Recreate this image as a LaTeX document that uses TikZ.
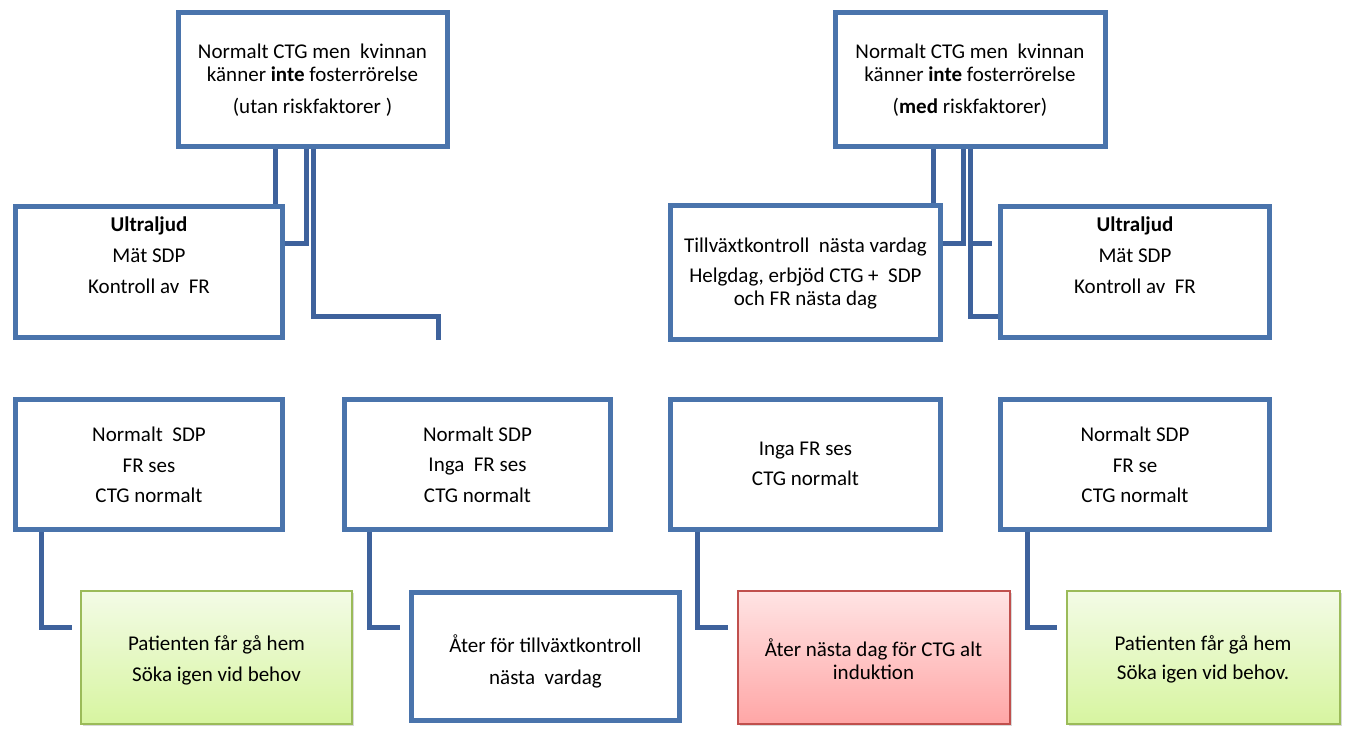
\documentclass[tikz,border=0pt]{standalone}
\usepackage{fontspec}
\setmainfont{Carlito}
\usetikzlibrary{shadows}
\definecolor{boxblue}{RGB}{74,116,172}
\definecolor{linkblue}{RGB}{62,98,156}
\definecolor{grnborder}{RGB}{155,187,89}
\definecolor{grntop}{RGB}{243,251,230}
\definecolor{grnbot}{RGB}{215,245,160}
\definecolor{redborder}{RGB}{192,80,77}
\definecolor{redtop}{RGB}{255,228,228}
\definecolor{redbot}{RGB}{255,166,166}
\begin{document}
\begin{tikzpicture}[x=1pt,y=-1pt,
  txt/.style={anchor=north, align=center, inner sep=0pt, font=\fontsize{21}{23}\selectfont},
  bluebox/.style={draw=boxblue, line width=5pt, fill=white, inner sep=0pt},
  greenbox/.style={draw=grnborder, line width=2pt, top color=grntop, bottom color=grnbot, inner sep=0pt,
     drop shadow={opacity=0.3, shadow xshift=2pt, shadow yshift=-2pt}},
  redbox/.style={draw=redborder, line width=2pt, top color=redtop, bottom color=redbot, inner sep=0pt,
     drop shadow={opacity=0.3, shadow xshift=2pt, shadow yshift=-2pt}},
  link/.style={draw=linkblue, line width=5pt}]
\useasboundingbox (0,0) rectangle (1346,729);

% top boxes
\node[bluebox, minimum width=269pt, minimum height=134pt] (TL) at (312.5,79) {};
\node[bluebox, minimum width=270pt, minimum height=134pt] (TR) at (970,79.5) {};
% second row
\node[bluebox, minimum width=267pt, minimum height=131pt] (UL) at (149,272) {};
\node[bluebox, minimum width=270pt, minimum height=134pt] (TV) at (805.5,272) {};
\node[bluebox, minimum width=269pt, minimum height=131pt] (UR) at (1135,272) {};
% third row
\node[bluebox, minimum width=267pt, minimum height=130pt] (R1) at (149,464.5) {};
\node[bluebox, minimum width=266pt, minimum height=130pt] (R2) at (477.5,464.5) {};
\node[bluebox, minimum width=270pt, minimum height=130pt] (R3) at (805.5,464.5) {};
\node[bluebox, minimum width=269pt, minimum height=130pt] (R4) at (1135,464.5) {};
% bottom row
\node[greenbox, minimum width=271.5pt, minimum height=133pt] (G1) at (216.5,657.5) {};
\node[bluebox, minimum width=268pt, minimum height=128pt] (W) at (545.5,656.5) {};
\node[redbox, minimum width=272pt, minimum height=133pt] (RD) at (873.5,657.5) {};
\node[greenbox, minimum width=273pt, minimum height=133pt] (G2) at (1203,657.5) {};

% texts
\node[txt] (TLt) at (312.5,44) {Normalt CTG men\ \ kvinnan\\känner \textbf{inte} fosterrörelse\\[9pt](utan riskfaktorer )};
\node[txt] (TRt) at (970,44) {Normalt CTG men\ \ kvinnan\\känner \textbf{inte} fosterrörelse\\[9pt](\textbf{med} riskfaktorer)};
\node[txt] (ULt) at (149,217) {\textbf{Ultraljud}\\[8pt]Mät SDP\\[8pt]Kontroll av\ \ FR};
\node[txt] (TVt) at (805.5,238) {Tillväxtkontroll\ \ nästa vardag\\[7pt]Helgdag, erbjöd CTG +\ \ SDP\\och FR nästa dag};
\node[txt] (URt) at (1135,217) {\textbf{Ultraljud}\\[8pt]Mät SDP\\[8pt]Kontroll av\ \ FR};
\node[txt] (R1t) at (149,427) {Normalt\ \ SDP\\[8pt]FR ses\\[7pt]CTG normalt};
\node[txt] (R2t) at (477.5,427) {Normalt SDP\\[7pt]Inga\ \ FR ses\\[8pt]CTG normalt};
\node[txt] (R3t) at (805.5,442) {Inga FR ses\\[7pt]CTG normalt};
\node[txt] (R4t) at (1135,427) {Normalt SDP\\[8pt]FR se\\[7pt]CTG normalt};
\node[txt] (G1t) at (216.5,635) {Patienten får gå hem\\[8pt]Söka igen vid behov};
\node[txt] (Wt) at (545.5,635) {Åter för tillväxtkontroll\\[9pt]nästa\ \ vardag};
\node[txt] (RDt) at (873.5,639) {Åter nästa dag för CTG alt\\induktion};
\node[txt] (G2t) at (1203,635) {Patienten får gå hem\\[6pt]Söka igen vid behov.};

% connectors from left top box
\coordinate (a1) at (275,0);
\coordinate (a2) at (306,243);
\coordinate (a3) at (313,316);
\coordinate (a3e) at (438,340);
\draw[link] (a1 |- TL.south) -- (a1 |- UL.north);
\draw[link] (a2 |- TL.south) -- (a2) -- (a2 -| UL.east);
\draw[link] (a3 |- TL.south) -- (a3) -| (a3e);

% connectors from right top box
\coordinate (b1) at (933,0);
\coordinate (b2) at (963,243);
\coordinate (b3) at (970,316);
\coordinate (b4) at (992,243);
\draw[link] (b1 |- TR.south) -- (b1 |- TV.north);
\draw[link] (b2 |- TR.south) -- (b2) -- (b2 -| TV.east);
\draw[link] (b3 |- TR.south) -- (b3) -- (b3 -| UR.west);
\draw[link] (b3 |- b4) -- (b4);

% connectors from third row
\coordinate (d1) at (41,627);   \coordinate (e1) at (72,627);
\coordinate (d2) at (369,627);  \coordinate (e2) at (400,627);
\coordinate (d3) at (697,627);  \coordinate (e3) at (728,627);
\coordinate (d4) at (1027,627); \coordinate (e4) at (1057,627);
\draw[link] (d1 |- R1.south) -- (d1) -- (e1);
\draw[link] (d2 |- R2.south) -- (d2) -- (e2);
\draw[link] (d3 |- R3.south) -- (d3) -- (e3);
\draw[link] (d4 |- R4.south) -- (d4) -- (e4);
\end{tikzpicture}
\end{document}
